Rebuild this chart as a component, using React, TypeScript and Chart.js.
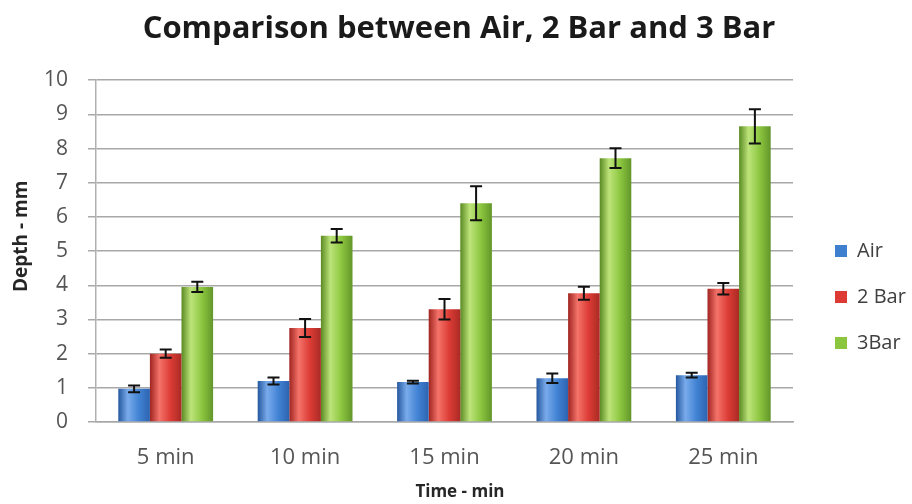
import React, { useEffect, useRef } from "react";
import { Chart, registerables } from "chart.js";

Chart.register(...registerables);

const categories = ["5 min", "10 min", "15 min", "20 min", "25 min"];
const seriesNames = ["Air", "2 Bar", "3Bar"];
const airValues = [0.97, 1.2, 1.17, 1.28, 1.37];
const bar2Values = [2.0, 2.75, 3.3, 3.77, 3.9];
const bar3Values = [3.95, 5.45, 6.4, 7.72, 8.65];
const airErrors = [0.1, 0.1, 0.04, 0.14, 0.07];
const bar2Errors = [0.12, 0.26, 0.3, 0.19, 0.17];
const bar3Errors = [0.15, 0.2, 0.5, 0.29, 0.5];
const yTicks = [0, 1, 2, 3, 4, 5, 6, 7, 8, 9, 10];

const FONT = "'Open Sans', sans-serif";
const baseColors = ["#3f7fd0", "#dc3a33", "#8cc63f"];
const shades = [
  ["#24579f", "#79abeb", "#4283d4", "#2c63b0"],
  ["#a02420", "#f4736a", "#dc3c35", "#aa2a24"],
  ["#5a8a22", "#bde47a", "#8cc63f", "#62962a"],
];

const gradientPlugin = {
  id: "barGradient",
  beforeDatasetsDraw(chart: any) {
    const ctx = chart.ctx;
    chart.data.datasets.forEach((_ds: any, i: number) => {
      const meta = chart.getDatasetMeta(i);
      const s = shades[i];
      meta.data.forEach((el: any) => {
        const { x, width } = el.getProps(["x", "width"], true);
        const g = ctx.createLinearGradient(x - width / 2, 0, x + width / 2, 0);
        g.addColorStop(0, s[0]);
        g.addColorStop(0.3, s[1]);
        g.addColorStop(0.65, s[2]);
        g.addColorStop(1, s[3]);
        el.options.backgroundColor = g;
      });
    });
  },
};

const errorBarPlugin = {
  id: "errorBars",
  afterDatasetsDraw(chart: any) {
    const ctx = chart.ctx;
    const yScale = chart.scales.y;
    chart.data.datasets.forEach((ds: any, i: number) => {
      const meta = chart.getDatasetMeta(i);
      meta.data.forEach((el: any, j: number) => {
        const v = ds.data[j];
        const e = ds.errors[j];
        const top = yScale.getPixelForValue(v + e);
        const bot = yScale.getPixelForValue(v - e);
        const x = el.x;
        ctx.save();
        ctx.strokeStyle = "#111111";
        ctx.lineWidth = 2;
        ctx.beginPath();
        ctx.moveTo(x, top);
        ctx.lineTo(x, bot);
        ctx.moveTo(x - 6, top);
        ctx.lineTo(x + 6, top);
        ctx.moveTo(x - 6, bot);
        ctx.lineTo(x + 6, bot);
        ctx.stroke();
        ctx.restore();
      });
    });
  },
};

export default function App() {
  const ref = useRef<HTMLCanvasElement | null>(null);
  useEffect(() => {
    if (!ref.current) return;
    const valueSets = [airValues, bar2Values, bar3Values];
    const errorSets = [airErrors, bar2Errors, bar3Errors];
    const chart = new Chart(ref.current, {
      type: "bar",
      data: {
        labels: categories,
        datasets: seriesNames.map((name, i) => ({
          label: name,
          data: valueSets[i],
          errors: errorSets[i],
          backgroundColor: () => baseColors[i],
          borderWidth: 0,
          categoryPercentage: 0.68,
          barPercentage: 1,
        })) as any,
      },
      options: {
        responsive: false,
        animation: false,
        layout: { padding: { left: 6, right: 0, top: 0, bottom: 0 } },
        plugins: {
          title: {
            display: true,
            text: "Comparison between Air, 2 Bar and 3 Bar",
            color: "#1a1a1a",
            font: { family: FONT, size: 31, weight: "bold" },
            padding: { top: 11, bottom: 32 },
          },
          legend: {
            position: "right",
            align: "start",
            maxWidth: 103,
            title: { display: true, text: "", font: { size: 12 }, padding: { top: 200.6, bottom: 0 } },
            labels: {
              boxWidth: 12,
              boxHeight: 12,
              padding: 26,
              color: "#404040",
              font: { family: FONT, size: 20 },
            },
          },
          tooltip: { enabled: false },
        },
        scales: {
          x: {
            afterFit: (s: any) => {
              s.height = 82;
            },
            grid: { display: false, drawTicks: false },
            border: { display: true, color: "#a8a8a8", width: 1.5 },
            ticks: { color: "#555555", padding: 23, font: { family: FONT, size: 22 } },
            title: {
              display: true,
              text: "       Time - min",
              color: "#262626",
              font: { family: FONT, size: 17, weight: "bold" },
              padding: { top: 9, bottom: 2 },
            },
          },
          y: {
            min: 0,
            max: 10,
            afterFit: (s: any) => {
              s.width = 90;
            },
            afterBuildTicks: (s: any) => {
              s.ticks = yTicks.map((v) => ({ value: v }));
            },
            grid: { color: "#a8a8a8", lineWidth: 1.5, drawTicks: true, tickLength: 8 },
            border: { display: true, color: "#b0b0b0", width: 1.5 },
            ticks: { color: "#555555", padding: 20, font: { family: FONT, size: 21 } },
            title: {
              display: true,
              text: "      Depth - mm",
              color: "#262626",
              font: { family: FONT, size: 19, weight: "bold" },
            },
          },
          yR: {
            type: "linear",
            position: "right",
            display: true,
            afterFit: (s: any) => {
              s.width = 16;
            },
            grid: { display: false, drawTicks: false },
            border: { display: false },
            ticks: { display: false },
          },
        },
      } as any,
      plugins: [gradientPlugin, errorBarPlugin],
    });
    return () => chart.destroy();
  }, []);
  return (
    <div style={{ position: "absolute", left: 0, top: 0, width: 912, height: 504, background: "#ffffff" }}>
      <canvas ref={ref} width={912} height={504} style={{ display: "block" }} />
    </div>
  );
}
